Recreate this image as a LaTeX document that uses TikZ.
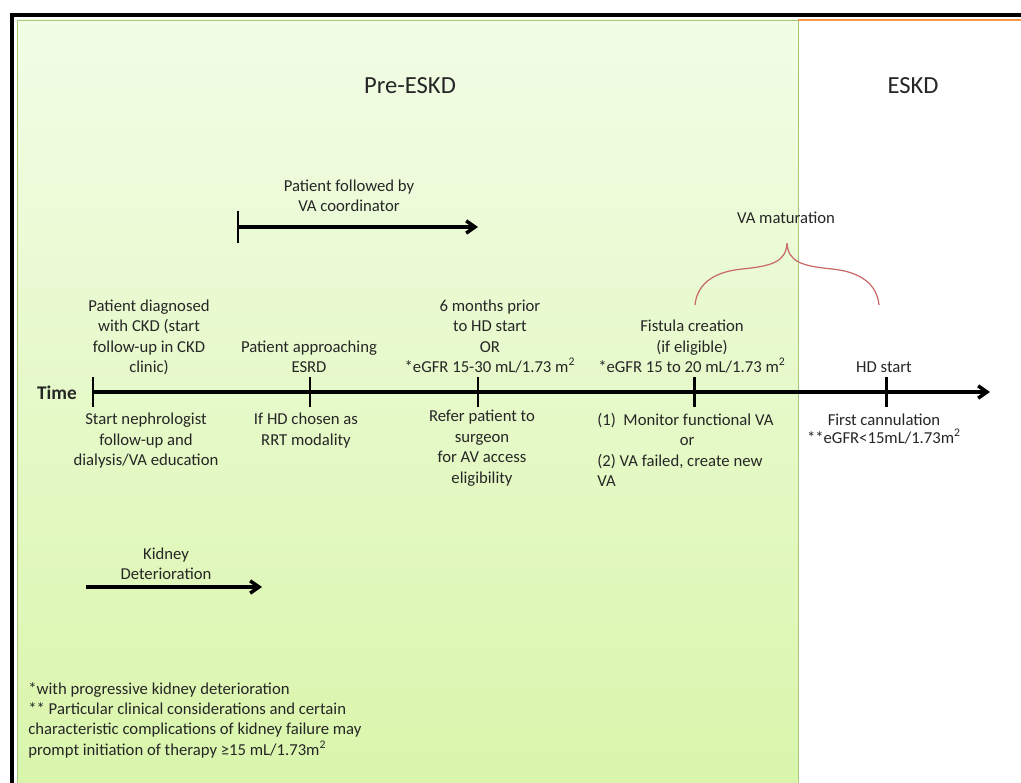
\documentclass[tikz,border=0pt]{standalone}
\usepackage{fontspec}
\setmainfont{Carlito}
\usetikzlibrary{arrows.meta}

\definecolor{paleg}{HTML}{F2FDE6}
\definecolor{deepg}{HTML}{D9F5AA}
\definecolor{edgeg}{HTML}{A9C97A}
\definecolor{bracecol}{HTML}{C96A68}
\definecolor{orng}{HTML}{F79646}

\begin{document}
\begin{tikzpicture}[x=0.02cm, y=-0.02cm,
    >={Straight Barb[length=5pt,width=7pt]},
    every node/.style={font=\fontsize{9.5}{11.6}\selectfont, text=black!85, inner sep=0pt},
    lbl/.style={align=center, execute at begin node=\strut, execute at end node=\strut},
    axis/.style={line width=2pt},
    tick/.style={line width=1.7pt}]
    \clip (0,0) rectangle (1021,783);
    \fill[white] (0,0) rectangle (1021,783);

    % phases
    \shade[top color=paleg, bottom color=deepg, draw=edgeg] (17,20) rectangle (798,800);
    \draw[orng, line width=1.2pt] (798,20) -- (1030,20);
    \draw[line width=1.8pt] (12,800) -- (12,15) -- (1030,15);
    \node[font=\fontsize{14}{16}\selectfont] (pre) at (410,86) {Pre-ESKD};
    \node[font=\fontsize{14}{16}\selectfont] (eskd) at (913,86) {ESKD};

    % time line
    \node[font=\bfseries\fontsize{11}{13}\selectfont] (time) at (57,393) {Time};
    \coordinate (t0) at (93,392);
    \coordinate (t1) at (310,392);
    \coordinate (t2) at (478,392);
    \coordinate (t3) at (694,392);
    \coordinate (t4) at (886,392);
    \coordinate (tend) at (990,392);
    \draw[axis, ->] (t0) -- (tend);
    \foreach \t in {t0,t1,t2,t3,t4}
        \draw[tick] (\t) ++(0,-15) -- ++(0,30);

    % events above the line
    \node[lbl, anchor=south] (diag) at (149,379) {Patient diagnosed\\with CKD (start\\follow-up in CKD\\clinic)};
    \node[lbl, anchor=south] (appr) at (309,379) {Patient approaching\\ESRD};
    \node[lbl, anchor=south] (sixm) at (490,379) {6 months prior\\to HD start\\OR\\*eGFR 15-30 mL/1.73 m\textsuperscript{2}};
    \node[lbl, anchor=south] (fist) at (692,379) {Fistula creation\\(if eligible)\\*eGFR 15 to 20 mL/1.73 m\textsuperscript{2}};
    \node[lbl, anchor=south] (hds) at (884,379) {HD start};

    % actions below the line
    \node[lbl, anchor=north] (neph) at (146,413) {Start nephrologist\\follow-up and\\dialysis/VA education};
    \node[lbl, anchor=north] (rrt) at (306,413) {If HD chosen as\\RRT modality};
    \node[lbl, anchor=north] (refer) at (482,410) {Refer patient to\\surgeon\\for AV access\\eligibility};
    \node[lbl, align=left, anchor=north west] (monit) at (597,413) {(1)\ \ Monitor functional VA\\\hspace*{47pt}or\\(2) VA failed, create new\\VA};
    \node[lbl, anchor=north] (cann) at (884,414) {First cannulation\\[-1.5pt]**eGFR<15mL/1.73m\textsuperscript{2}};

    % VA coordinator
    \coordinate (cstart) at (238,227);
    \coordinate (cend) at (478,227);
    \draw[tick] (cstart) ++(0,-16) -- ++(0,32);
    \draw[axis, ->] (cstart) -- (cend);
    \node[lbl, anchor=south] (coord) at (349,218) {Patient followed by\\VA coordinator};

    % VA maturation brace
    \coordinate (bl) at (695,305);
    \coordinate (btip) at (787,243);
    \coordinate (br) at (879,305);
    \draw[bracecol, line width=0.7pt] (bl) .. controls (697,285) and (712,272) .. (742,269)
        .. controls (772,266) and (786,262) .. (btip)
        .. controls (788,262) and (802,266) .. (832,269)
        .. controls (862,272) and (877,285) .. (br);
    \node[lbl, anchor=south] (mat) at (786,230) {VA maturation};

    % kidney deterioration
    \coordinate (kstart) at (86,587);
    \coordinate (kend) at (262,587);
    \draw[axis, ->] (kstart) -- (kend);
    \node[lbl, anchor=south] (kid) at (166,586) {Kidney\\Deterioration};

    % notes
    \node[lbl, align=left, anchor=north west] (notes) at (28,682)
        {*with progressive kidney deterioration\\** Particular clinical considerations and certain\\characteristic complications of kidney failure may\\prompt initiation of therapy ≥15 mL/1.73m\textsuperscript{2}};
\end{tikzpicture}
\end{document}
